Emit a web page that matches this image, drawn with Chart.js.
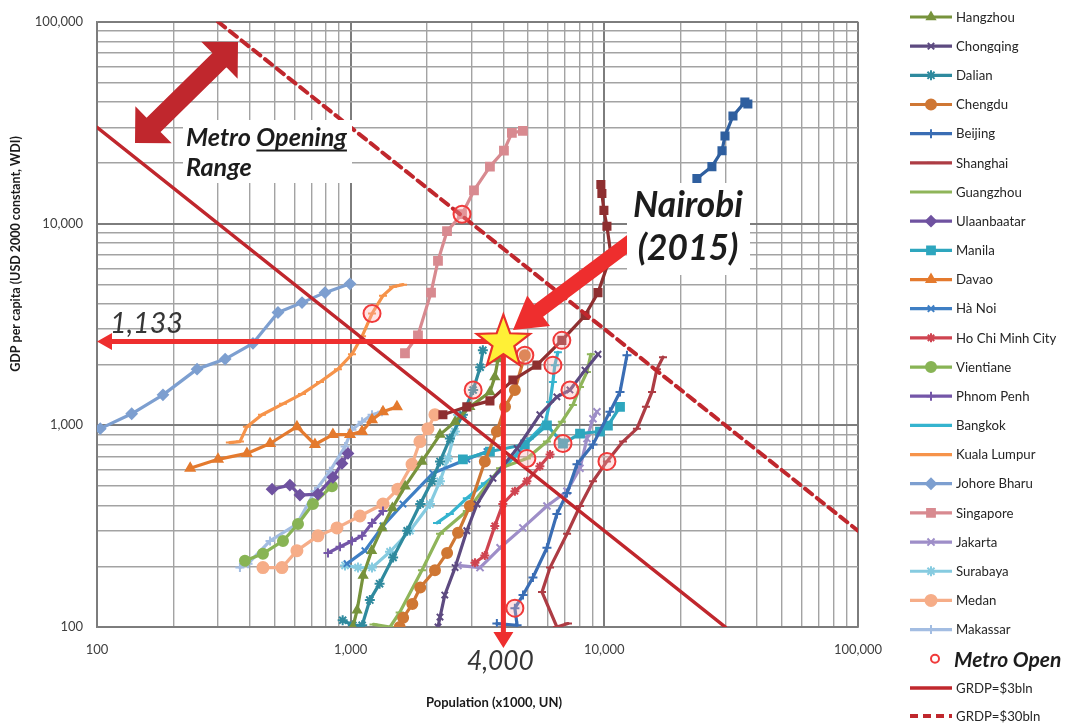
<!DOCTYPE html>
<html>
<head>
<meta charset="utf-8">
<title>Metro opening range</title>
<script src="https://cdn.jsdelivr.net/npm/chart.js@4.4.1/dist/chart.umd.min.js"></script>
<style>
  html, body { margin: 0; padding: 0; background: #ffffff; }
  #wrap { width: 1084px; height: 726px; position: relative; }
</style>
</head>
<body>
<div id="wrap"><canvas id="chart"></canvas></div>
<script>
// ---- City trajectories: population (x1000, UN) and GDP per capita (USD 2000 constant, WDI)
const tokyoPop = [23170, 26550, 29100, 29900, 32140, 35810, 36800];
const tokyoGdp = [16700, 19150, 22960, 27180, 34120, 39970, 39100];

const seoulPop = [2310, 2870, 3540, 4360, 5420, 6800, 8390, 9440, 10620, 10240, 9960, 9780, 9690];
const seoulGdp = [1128, 1234, 1321, 1675, 1986, 2636, 3499, 4544, 6983, 9702, 11620, 14090, 15600];

const hangzhouPop = [1020, 1060, 1120, 1210, 1330, 1460, 1640, 1910, 2250, 2580, 2950, 3540, 3700, 3810];
const hangzhouGdp = [100, 121, 180, 239, 310, 389, 499, 662, 899, 1042, 1234, 1463, 1733, 2128];

const chongqingPop = [2210, 2250, 2350, 2580, 2870, 3150, 3640, 4530, 5570, 6500, 7320, 8390, 9440];
const chongqingGdp = [100, 112, 144, 197, 300, 407, 546, 767, 1128, 1383, 1496, 1876, 2249];

const dalianPop = [930, 1020, 1110, 1190, 1300, 1470, 1670, 1880, 2090, 2250, 2460, 2770, 3040, 3240, 3320];
const dalianGdp = [108, 102, 102, 136, 164, 221, 300, 407, 528, 662, 859, 1128, 1496, 1941, 2355];

const chengduPop = [1560, 1610, 1750, 1880, 2150, 2400, 2650, 2950, 3380, 3770, 4060, 4440, 4860];
const chengduGdp = [100, 111, 130, 157, 191, 233, 293, 398, 662, 931, 1234, 1496, 2224];

const beijingPop = [3770, 4530, 4440, 4780, 5230, 5940, 6500, 7130, 7800, 9020, 10520, 11530, 12280];
const beijingGdp = [104, 102, 124, 144, 176, 247, 363, 461, 640, 803, 1167, 1463, 2224];

const shanghaiPop = [7190, 6500, 5680, 6110, 7130, 8020, 9020, 10240, 11840, 13440, 14590, 15420, 16120, 17030];
const shanghaiGdp = [104, 100, 149, 197, 290, 398, 528, 662, 830, 962, 1234, 1463, 1898, 2173];

const guangzhouPop = [1230, 1430, 1560, 1910, 2250, 2870, 3880, 4950, 5940, 6800, 7520, 8020, 8540, 8850];
const guangzhouGdp = [103, 100, 118, 191, 290, 376, 612, 685, 830, 1042, 1262, 1549, 1837, 2249];

const ulaanbaatarPop = [490, 576, 631, 743, 851, 924, 976];
const ulaanbaatarGdp = [482, 505, 451, 456, 552, 647, 725];

const manilaPop = [2770, 3540, 4860, 5940, 6870, 8020, 9610, 10330, 11530];
const manilaGdp = [678, 741, 803, 1000, 812, 910, 931, 995, 1234];

const davaoPop = [233, 300, 390, 481, 614, 723, 851, 994, 1109, 1214, 1341, 1522];
const davaoGdp = [612, 678, 725, 812, 984, 803, 899, 899, 931, 1066, 1167, 1234];

const hanoiPop = [967, 1138, 1341, 1608, 2108, 2872, 3445];
const hanoiGdp = [206, 239, 317, 407, 578, 678, 741];

const hcmcPop = [3090, 3380, 3700, 3980, 4440, 4950, 5570, 6110];
const hcmcGdp = [208, 226, 317, 407, 471, 528, 626, 716];

const vientianePop = [383, 451, 541, 620, 710, 844];
const vientianeGdp = [213, 231, 267, 324, 407, 499];

const phnomPenhPop = [814, 908, 1012, 1109, 1214, 1341];
const phnomPenhGdp = [233, 250, 267, 283, 328, 376];

const bangkokPop = [2190, 2460, 2870, 3380, 3880, 4440, 5090, 5830, 6110, 6270, 6380, 6560];
const bangkokGdp = [328, 363, 435, 516, 591, 701, 859, 1018, 1305, 1638, 1986, 2301];

const kualaLumpurPop = [334, 366, 390, 447, 541, 643, 757, 891, 1012, 1109, 1214, 1341, 1468, 1608];
const kualaLumpurGdp = [821, 830, 984, 1128, 1277, 1430, 1638, 1898, 2249, 2760, 3580, 4389, 4862, 4977];

const johorePop = [103, 137, 182, 248, 320, 412, 517, 643, 792, 994];
const johoreGdp = [962, 1140, 1415, 1898, 2128, 2548, 3622, 4055, 4544, 5027];

const singaporePop = [1637, 1842, 2074, 2209, 2398, 2748, 3063, 3540, 4020, 4320, 4775];
const singaporeGdp = [2275, 2793, 4544, 6530, 9166, 11120, 14590, 19150, 22960, 28140, 28780];

const jakartaPop = [2648, 3236, 3881, 4775, 5942, 7125, 8016, 8540, 9020, 9350];
const jakartaGdp = [202, 197, 247, 310, 398, 471, 612, 859, 1077, 1167];

const surabayaPop = [950, 1069, 1214, 1429, 1713, 2054, 2249, 2417, 2576, 2648];
const surabayaGdp = [202, 197, 197, 236, 300, 407, 528, 685, 931, 1128];

const medanPop = [451, 536, 614, 743, 883, 1088, 1341, 1535, 1745, 1875, 2016, 2149];
const medanGdp = [197, 197, 239, 283, 310, 355, 407, 482, 640, 830, 962, 1128];

const makassarPop = [366, 394, 481, 614, 723, 828, 950, 1012, 1109, 1214, 1328];
const makassarGdp = [197, 206, 267, 324, 471, 591, 785, 951, 1042, 1128, 1167];

// Year of metro opening for each city that has one
const metroOpenPop = [1214, 2748, 3040, 4860, 6800, 6270, 7320, 4950, 6870, 10240, 4440];
const metroOpenGdp = [3580, 11120, 1496, 2224, 2636, 1986, 1496, 685, 812, 662, 124];

// Constant regional GDP lines: population x GDP per capita = const
const grdp3Pop = [100, 30000];
const grdp3Gdp = [30000, 100];
const grdp30Pop = [300, 100000];
const grdp30Gdp = [100000, 300];

// Nairobi reference point
const nairobiPop = 4000;
const nairobiGdp = 2600;
const nairobiGdpLabel = '1,133';

// Axis decades (labelled ticks)
const axisDecades = [100, 1000, 10000, 100000];

const FONT = "Lato, 'Open Sans', 'DejaVu Sans', sans-serif";

// Series styling
const series = [
  { name: 'Tokyo', pop: tokyoPop, gdp: tokyoGdp, color: '#2f5f9f', marker: 'rect', size: 5, legend: false },
  { name: 'Seoul', pop: seoulPop, gdp: seoulGdp, color: '#8e2f30', marker: 'rect', size: 5, legend: false },
  { name: 'Hangzhou', pop: hangzhouPop, gdp: hangzhouGdp, color: '#77933c', marker: 'triangle', size: 4.5 },
  { name: 'Chongqing', pop: chongqingPop, gdp: chongqingGdp, color: '#5d4a80', marker: 'crossRot', size: 4.5 },
  { name: 'Dalian', pop: dalianPop, gdp: dalianGdp, color: '#2f8a9e', marker: 'star', size: 5 },
  { name: 'Chengdu', pop: chengduPop, gdp: chengduGdp, color: '#cf7734', marker: 'circle', size: 5 },
  { name: 'Beijing', pop: beijingPop, gdp: beijingGdp, color: '#3a6db4', marker: 'cross', size: 4.5 },
  { name: 'Shanghai', pop: shanghaiPop, gdp: shanghaiGdp, color: '#ad3c44', marker: 'line', size: 4 },
  { name: 'Guangzhou', pop: guangzhouPop, gdp: guangzhouGdp, color: '#8fb55a', marker: 'line', size: 4 },
  { name: 'Ulaanbaatar', pop: ulaanbaatarPop, gdp: ulaanbaatarGdp, color: '#6f52a0', marker: 'rectRot', size: 5 },
  { name: 'Manila', pop: manilaPop, gdp: manilaGdp, color: '#2ea6be', marker: 'rect', size: 5.5 },
  { name: 'Davao', pop: davaoPop, gdp: davaoGdp, color: '#e47a2e', marker: 'triangle', size: 5 },
  { name: 'Hà Noi', pop: hanoiPop, gdp: hanoiGdp, color: '#3f7fc4', marker: 'crossRot', size: 4.5 },
  { name: 'Ho Chi Minh City', pop: hcmcPop, gdp: hcmcGdp, color: '#cf4450', marker: 'star', size: 4.5 },
  { name: 'Vientiane', pop: vientianePop, gdp: vientianeGdp, color: '#88b455', marker: 'circle', size: 5 },
  { name: 'Phnom Penh', pop: phnomPenhPop, gdp: phnomPenhGdp, color: '#7456a8', marker: 'cross', size: 4.5 },
  { name: 'Bangkok', pop: bangkokPop, gdp: bangkokGdp, color: '#35b4cf', marker: 'line', size: 4 },
  { name: 'Kuala Lumpur', pop: kualaLumpurPop, gdp: kualaLumpurGdp, color: '#f6934a', marker: 'line', size: 4 },
  { name: 'Johore Bharu', pop: johorePop, gdp: johoreGdp, color: '#7d9fd0', marker: 'rectRot', size: 5 },
  { name: 'Singapore', pop: singaporePop, gdp: singaporeGdp, color: '#d88a90', marker: 'rect', size: 5.5 },
  { name: 'Jakarta', pop: jakartaPop, gdp: jakartaGdp, color: '#9e8ec8', marker: 'crossRot', size: 5 },
  { name: 'Surabaya', pop: surabayaPop, gdp: surabayaGdp, color: '#86cbe0', marker: 'star', size: 5 },
  { name: 'Medan', pop: medanPop, gdp: medanGdp, color: '#f6ad88', marker: 'circle', size: 5.5 },
  { name: 'Makassar', pop: makassarPop, gdp: makassarGdp, color: '#a3bde2', marker: 'cross', size: 4.5 }
];

const RED_DARK = '#c0272d';
const RED = '#ee2e2e';

function pts(pop, gdp) {
  return pop.map((p, i) => ({ x: p, y: gdp[i] }));
}

// Every 1..9 x 10^n gridline inside the axis range
const gridValues = [];
for (let e = 2; e <= 4; e++) {
  for (let m = 1; m <= 9; m++) gridValues.push(m * Math.pow(10, e));
}
gridValues.push(100000);

const datasets = [];
datasets.push({
  label: 'Metro Open', data: pts(metroOpenPop, metroOpenGdp), showLine: false,
  pointStyle: 'circle', pointRadius: 8.5, pointBorderWidth: 2,
  pointBorderColor: '#f03a3a', pointBackgroundColor: 'rgba(255,170,170,0.32)'
});
datasets.push({
  label: 'GRDP=$3bln', data: pts(grdp3Pop, grdp3Gdp), showLine: true,
  borderColor: RED_DARK, borderWidth: 3.5, pointRadius: 0
});
datasets.push({
  label: 'GRDP=$30bln', data: pts(grdp30Pop, grdp30Gdp), showLine: true,
  borderColor: RED_DARK, borderWidth: 4, borderDash: [9, 6], pointRadius: 0
});
series.forEach(s => {
  datasets.push({
    label: s.name, data: pts(s.pop, s.gdp), showLine: true, tension: 0,
    borderColor: s.color, backgroundColor: s.color, borderWidth: 3.2,
    pointStyle: s.marker, pointRadius: s.size, pointBorderWidth: 2,
    pointBorderColor: s.color, pointBackgroundColor: s.color
  });
});

function logAxis(extra) {
  return Object.assign({
    type: 'logarithmic', min: 100, max: 100000,
    afterBuildTicks(scale) {
      scale.ticks = gridValues.map(v => ({ value: v }));
    },
    grid: {
      drawTicks: false,
      color: c => axisDecades.includes(c.tick && c.tick.value) ? '#7d7d7d' : '#a3a3a3',
      lineWidth: c => axisDecades.includes(c.tick && c.tick.value) ? 2 : 1.4
    },
    border: { color: '#7d7d7d', width: 1.8 }
  }, extra);
}

function tickOpts(pad) {
  return {
    autoSkip: false, maxRotation: 0, minRotation: 0, padding: pad,
    color: '#404040', font: { family: FONT, size: 13 },
    callback: v => axisDecades.includes(v) ? v.toLocaleString('en-US') : ''
  };
}

function drawArrow(ctx, x1, y1, x2, y2, sw, hl, hw, twoHeads) {
  const L = Math.hypot(x2 - x1, y2 - y1);
  const ux = (x2 - x1) / L, uy = (y2 - y1) / L, nx = -uy, ny = ux, s = sw / 2;
  const b2x = x2 - ux * hl, b2y = y2 - uy * hl;
  const b1x = x1 + ux * hl, b1y = y1 + uy * hl;
  const p = [];
  if (twoHeads) p.push([x1, y1], [b1x + nx * hw, b1y + ny * hw], [b1x + nx * s, b1y + ny * s]);
  else p.push([x1 + nx * s, y1 + ny * s]);
  p.push([b2x + nx * s, b2y + ny * s], [b2x + nx * hw, b2y + ny * hw], [x2, y2],
         [b2x - nx * hw, b2y - ny * hw], [b2x - nx * s, b2y - ny * s]);
  if (twoHeads) p.push([b1x - nx * s, b1y - ny * s], [b1x - nx * hw, b1y - ny * hw]);
  else p.push([x1 - nx * s, y1 - ny * s]);
  ctx.beginPath();
  p.forEach((q, i) => i ? ctx.lineTo(q[0], q[1]) : ctx.moveTo(q[0], q[1]));
  ctx.closePath();
  ctx.fill();
}

function drawStar(ctx, cx, cy, R, r) {
  ctx.beginPath();
  for (let i = 0; i < 10; i++) {
    const ang = -Math.PI / 2 + i * Math.PI / 5;
    const rad = i % 2 ? r : R;
    ctx.lineTo(cx + rad * Math.cos(ang), cy + rad * Math.sin(ang));
  }
  ctx.closePath();
}

// Font size that makes `text` span `width` pixels
function fitSize(ctx, text, style, width) {
  ctx.font = style + ' 100px ' + FONT;
  return 100 * width / ctx.measureText(text).width;
}

function drawMarker(ctx, style, r, x, y) {
  if (Chart.helpers && Chart.helpers.drawPoint) {
    Chart.helpers.drawPoint(ctx, { pointStyle: style, rotation: 0, radius: r, borderWidth: 2 }, x, y);
  } else {
    ctx.beginPath(); ctx.arc(x, y, r, 0, Math.PI * 2); ctx.fill();
  }
}

const annotations = {
  id: 'annotations',
  afterDatasetsDraw(chart) {
    const { ctx, chartArea: a, scales: { x, y } } = chart;
    const sx = x.getPixelForValue(nairobiPop);
    const sy = y.getPixelForValue(nairobiGdp);
    ctx.save();

    // Guide arrows from the Nairobi point to both axes
    ctx.fillStyle = RED;
    drawArrow(ctx, sx, sy, a.left, sy, 5, 15, 8.5, false);
    drawArrow(ctx, sx, sy, sx, a.bottom + 21, 5, 16, 10, false);

    // Nairobi star
    drawStar(ctx, sx, sy + 1, 28, 11.5);
    ctx.fillStyle = '#fff036';
    ctx.fill();
    ctx.lineWidth = 2.2;
    ctx.strokeStyle = '#e8302c';
    ctx.stroke();

    // Pointer from the Nairobi caption
    ctx.fillStyle = RED;
    drawArrow(ctx, 645, 231, 513, 330, 15, 32, 19, false);

    // Caption boxes
    ctx.fillStyle = '#ffffff';
    ctx.fillRect(183, 120, 169, 63);
    ctx.fillRect(627, 183, 123, 92);

    ctx.fillStyle = '#1c1c1c';
    ctx.textBaseline = 'alphabetic';
    ctx.textAlign = 'left';

    // "Metro Opening Range"
    let fs = fitSize(ctx, 'Metro Opening', 'italic bold', 161);
    ctx.font = 'italic bold ' + fs + 'px ' + FONT;
    const w1 = ctx.measureText('Metro ').width;
    const w2 = ctx.measureText('Opening').width;
    ctx.fillText('Metro ', 186, 146);
    ctx.fillText('Opening', 186 + w1, 146);
    ctx.fillRect(186 + w1, 149.5, w2, 2);
    ctx.fillText('Range', 186, 176);

    // "Nairobi (2015)"
    fs = fitSize(ctx, 'Nairobi', 'italic bold', 110);
    ctx.font = 'italic bold ' + fs + 'px ' + FONT;
    ctx.textAlign = 'center';
    ctx.fillText('Nairobi', 688, 217);
    ctx.fillText('(2015)', 688, 260);

    // Axis readouts
    ctx.fillStyle = '#363636';
    fs = fitSize(ctx, nairobiGdpLabel, 'italic', 73);
    ctx.font = 'italic ' + fs + 'px ' + FONT;
    ctx.textAlign = 'left';
    ctx.fillText(nairobiGdpLabel, 110, 333);
    const popLabel = nairobiPop.toLocaleString('en-US');
    fs = fitSize(ctx, popLabel, 'italic', 67);
    ctx.font = 'italic ' + fs + 'px ' + FONT;
    ctx.textAlign = 'center';
    ctx.fillText(popLabel, sx - 3, 670);

    // Double-headed range arrow
    ctx.fillStyle = RED_DARK;
    drawArrow(ctx, 135, 143, 238, 42, 20, 26, 26, true);

    ctx.restore();
  },
  afterDraw(chart) {
    const { ctx } = chart;
    ctx.save();

    // Axis titles
    ctx.fillStyle = '#1a1a1a';
    ctx.textAlign = 'center';
    ctx.textBaseline = 'middle';
    ctx.font = 'bold 13px ' + FONT;
    ctx.fillText('Population (x1000, UN)', 494, 703);
    ctx.translate(16, 254);
    ctx.rotate(-Math.PI / 2);
    ctx.font = 'bold 12.5px ' + FONT;
    ctx.fillText('GDP per capita (USD 2000 constant, WDI)', 0, 0);
    ctx.setTransform(1, 0, 0, 1, 0, 0);

    // Legend
    const x0 = 910, x1 = 952, mx = 931, tx = 956, y0 = 17, step = 29.17;
    const items = series.filter(s => s.legend !== false);
    ctx.textAlign = 'left';
    ctx.textBaseline = 'middle';
    items.forEach((s, i) => {
      const yy = y0 + i * step;
      ctx.strokeStyle = s.color;
      ctx.fillStyle = s.color;
      ctx.lineWidth = 3.2;
      ctx.setLineDash([]);
      ctx.beginPath(); ctx.moveTo(x0, yy); ctx.lineTo(x1, yy); ctx.stroke();
      ctx.lineWidth = 2;
      drawMarker(ctx, s.marker, s.size, mx, yy);
      ctx.fillStyle = '#262626';
      ctx.font = '13.2px ' + FONT;
      ctx.fillText(s.name, tx, yy + 0.5);
    });
    let yy = y0 + items.length * step;
    ctx.strokeStyle = '#f03a3a';
    ctx.lineWidth = 2;
    ctx.beginPath(); ctx.arc(935, yy, 4, 0, Math.PI * 2); ctx.stroke();
    ctx.fillStyle = '#1c1c1c';
    ctx.font = 'italic bold 21px ' + FONT;
    ctx.fillText('Metro Open', 954, yy + 1);
    yy += step;
    ctx.strokeStyle = RED_DARK;
    ctx.lineWidth = 3.5;
    ctx.beginPath(); ctx.moveTo(x0, yy); ctx.lineTo(x1, yy); ctx.stroke();
    ctx.fillStyle = '#262626';
    ctx.font = '13.2px ' + FONT;
    ctx.fillText('GRDP=$3bln', tx, yy + 0.5);
    yy += step - 1;
    ctx.lineWidth = 4;
    ctx.setLineDash([8, 5]);
    ctx.beginPath(); ctx.moveTo(x0, yy); ctx.lineTo(x1, yy); ctx.stroke();
    ctx.setLineDash([]);
    ctx.fillText('GRDP=$30bln', tx, yy + 0.5);
    ctx.restore();
  }
};

new Chart(document.getElementById('chart'), {
  type: 'scatter',
  data: { datasets },
  options: {
    responsive: true,
    maintainAspectRatio: false,
    devicePixelRatio: 1,
    animation: false,
    layout: { padding: { left: 0, top: 17, right: 226, bottom: 0 } },
    plugins: { legend: { display: false }, tooltip: { enabled: false } },
    elements: { line: { borderCapStyle: 'round', borderJoinStyle: 'round' } },
    scales: {
      x: logAxis({
        position: 'bottom',
        ticks: tickOpts(15),
        afterFit(s) { s.height = 99; }
      }),
      y: logAxis({
        position: 'left',
        ticks: tickOpts(14),
        afterFit(s) { s.width = 97; }
      })
    }
  },
  plugins: [annotations]
});
</script>
</body>
</html>
